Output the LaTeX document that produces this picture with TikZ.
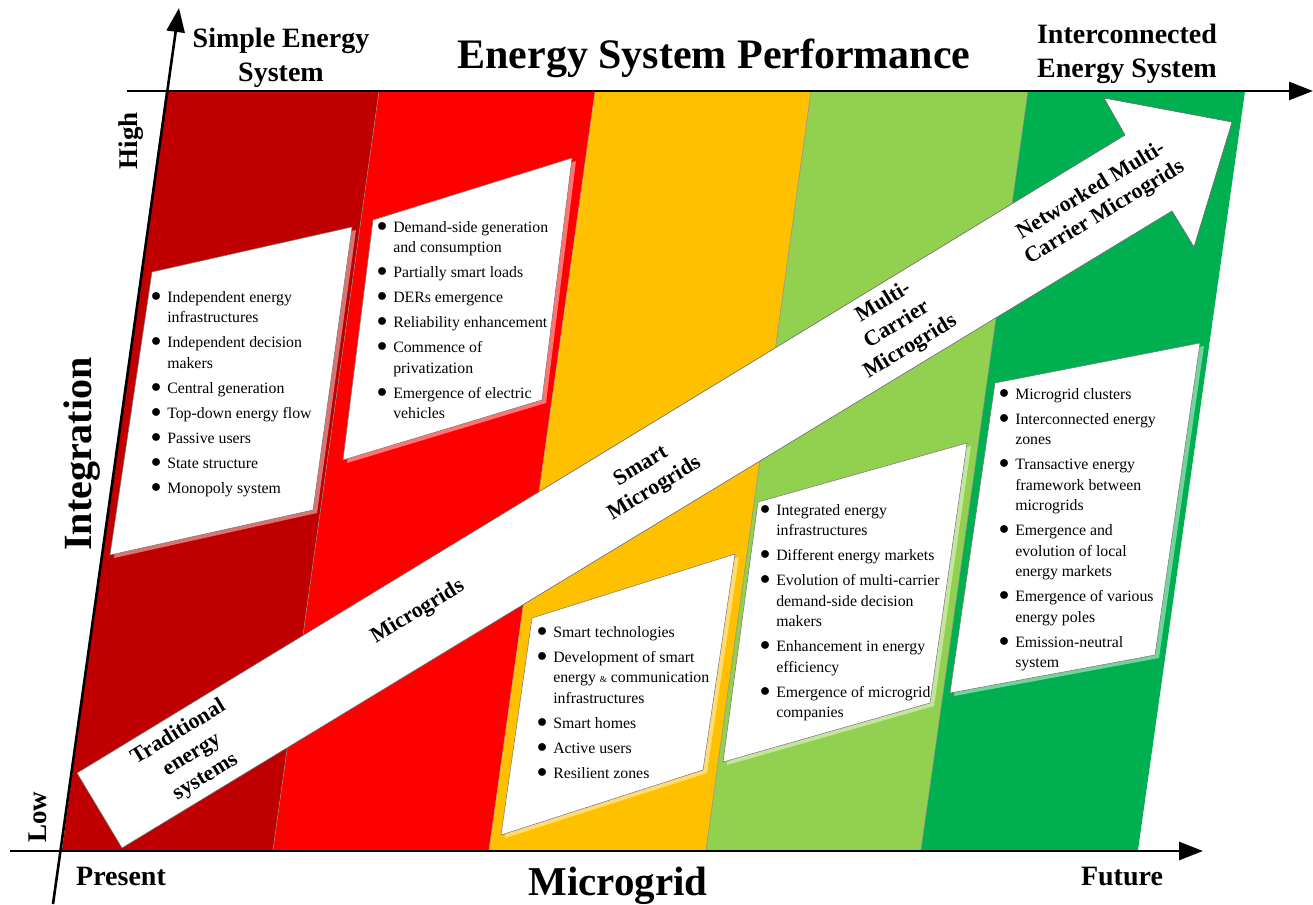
\documentclass[tikz,border=0pt]{standalone}
\usepackage{fontspec}
\usepackage{graphicx}
\setmainfont{Liberation Serif}
\usetikzlibrary{arrows.meta}
\definecolor{bandA}{HTML}{C00000}
\definecolor{bandB}{HTML}{FF0000}
\definecolor{bandC}{HTML}{FFC000}
\definecolor{bandD}{HTML}{92D050}
\definecolor{bandE}{HTML}{00B050}
\newcommand\bul{\raisebox{0.1ex}{\scalebox{1.4}{$\bullet$}}}
\newcommand\ig{\\[4.5pt]}
\begin{document}
\begin{tikzpicture}[x=1pt,y=-1pt,
  axisline/.style={line width=2.6pt, -{Triangle[length=24pt,width=18pt]}},
  bandline/.style={draw=black!45, line width=0.5pt},
  infobox/.style={fill=white, draw=black!55, line width=0.5pt},
  boxshadow/.style={fill=white, opacity=0.45},
  boxtext/.style={inner sep=0pt, anchor=north west, font=\fontsize{15.8}{20.5}\selectfont},
  biglabel/.style={font=\bfseries\fontsize{28}{34}\selectfont, align=center, inner sep=0pt},
  arrowlabel/.style={font=\bfseries\fontsize{22}{26}\selectfont, align=center, inner sep=0pt, rotate=31.3}
]
\useasboundingbox (0,0) rectangle (1313,904);

% bands
\fill[bandA] (166,91) -- (379,91) -- (273,850) -- (62,850) -- cycle;
\fill[bandB] (379,91) -- (595,91) -- (489,850) -- (273,850) -- cycle;
\fill[bandC] (595,91) -- (811,91) -- (706,850) -- (489,850) -- cycle;
\fill[bandD] (811,91) -- (1028,91) -- (921,850) -- (706,850) -- cycle;
\fill[bandE] (1028,91) -- (1245,91) -- (1138,850) -- (921,850) -- cycle;
\draw[bandline] (379,91) -- (273,850);
\draw[bandline] (595,91) -- (489,850);
\draw[bandline] (811,91) -- (706,850);
\draw[bandline] (1028,91) -- (921,850);

% info boxes with shadows
\fill[boxshadow] (156,275) -- (356,230) -- (317,513) -- (114,558) -- cycle;
\draw[infobox] (152,272) -- (352,227) -- (313,510) -- (110,555) -- cycle;
\fill[boxshadow] (377,223) -- (576,161) -- (546,403) -- (347,463) -- cycle;
\draw[infobox] (373,220) -- (572,158) -- (542,400) -- (343,460) -- cycle;

% big arrow
\draw[fill=white, draw=black!60, line width=0.6pt]
  (77,773) -- (1125,135) -- (1104,98) -- (1232,122) -- (1194,247) -- (1172,211) -- (122,848) -- cycle;

\fill[boxshadow] (536,621) -- (739,557) -- (707,773) -- (505,838) -- cycle;
\draw[infobox] (532,618) -- (735,554) -- (703,770) -- (501,835) -- cycle;
\fill[boxshadow] (762,505) -- (971,446) -- (934,706) -- (727,765) -- cycle;
\draw[infobox] (758,502) -- (967,443) -- (930,703) -- (723,762) -- cycle;
\fill[boxshadow] (999,386) -- (1204,346) -- (1159,658) -- (954,696) -- cycle;
\draw[infobox] (995,383) -- (1200,343) -- (1155,655) -- (950,693) -- cycle;

% axes
\draw[axisline] (53,904) -- (179,8);
\draw[axisline] (127,91) -- (1313,91);
\draw[axisline] (10,851) -- (1203,851);

% box texts
\node[boxtext] (t1) at (151,287.6) {\begin{tabular}{@{}l@{\hspace{6pt}}l@{}}
\bul & Independent energy\\
 & infrastructures\ig
\bul & Independent decision\\
 & makers\ig
\bul & Central generation\ig
\bul & Top-down energy flow\ig
\bul & Passive users\ig
\bul & State structure\ig
\bul & Monopoly system
\end{tabular}};

\node[boxtext] (t2) at (377,217.6) {\begin{tabular}{@{}l@{\hspace{6pt}}l@{}}
\bul & Demand-side generation\\
 & and consumption\ig
\bul & Partially smart loads\ig
\bul & DERs emergence\ig
\bul & Reliability enhancement\ig
\bul & Commence of\\
 & privatization\ig
\bul & Emergence of electric\\
 & vehicles
\end{tabular}};

\node[boxtext] (t3) at (537,622.6) {\begin{tabular}{@{}l@{\hspace{6pt}}l@{}}
\bul & Smart technologies\ig
\bul & Development of smart\\
 & energy {\fontsize{9}{9}\selectfont\&} communication\\
 & infrastructures\ig
\bul & Smart homes\ig
\bul & Active users\ig
\bul & Resilient zones
\end{tabular}};

\node[boxtext] (t4) at (760,500.6) {\begin{tabular}{@{}l@{\hspace{6pt}}l@{}}
\bul & Integrated energy\\
 & infrastructures\ig
\bul & Different energy markets\ig
\bul & Evolution of multi-carrier\\
 & demand-side decision\\
 & makers\ig
\bul & Enhancement in energy\\
 & efficiency\ig
\bul & Emergence of microgrid\\
 & companies
\end{tabular}};

\node[boxtext] (t5) at (999,384.6) {\begin{tabular}{@{}l@{\hspace{6pt}}l@{}}
\bul & Microgrid clusters\ig
\bul & Interconnected energy\\
 & zones\ig
\bul & Transactive energy\\
 & framework between\\
 & microgrids\ig
\bul & Emergence and\\
 & evolution of local\\
 & energy markets\ig
\bul & Emergence of various\\
 & energy poles\ig
\bul & Emission-neutral\\
 & system
\end{tabular}};

% arrow labels
\node[arrowlabel] (l1) at (192,755) {Traditional\\energy\\systems};
\node[arrowlabel] (l2) at (418,612) {Microgrids};
\node[arrowlabel] (l3) at (648,478) {Smart\\Microgrids};
\node[arrowlabel] (l4) at (897,325) {Multi-\\Carrier\\Microgrids};
\node[arrowlabel] (l5) at (1098,202) {Networked Multi-\\Carrier Microgrids};

% titles and axis labels
\node[font=\bfseries\fontsize{42}{42}\selectfont, anchor=base, inner sep=0pt] (title) at (714,69) {Energy System Performance};
\node[biglabel] (simple) at (281,58) {Simple Energy\\System};
\node[biglabel] (inter) at (1127,54) {Interconnected\\Energy System};
\node[font=\bfseries\fontsize{40}{40}\selectfont, rotate=90, inner sep=0pt] (integ) at (82,454) {Integration};
\node[font=\bfseries\fontsize{27}{27}\selectfont, rotate=90, inner sep=0pt] (high) at (131,141) {High};
\node[font=\bfseries\fontsize{27}{27}\selectfont, rotate=90, inner sep=0pt] (low) at (38,817) {Low};
\node[font=\bfseries\fontsize{28}{28}\selectfont, anchor=base, inner sep=0pt] (present) at (121,885) {Present};
\node[font=\bfseries\fontsize{28}{28}\selectfont, anchor=base, inner sep=0pt] (future) at (1122,885) {Future};
\node[font=\bfseries\fontsize{41}{41}\selectfont, anchor=base, inner sep=0pt] (micro) at (618,895) {Microgrid};
\end{tikzpicture}
\end{document}
